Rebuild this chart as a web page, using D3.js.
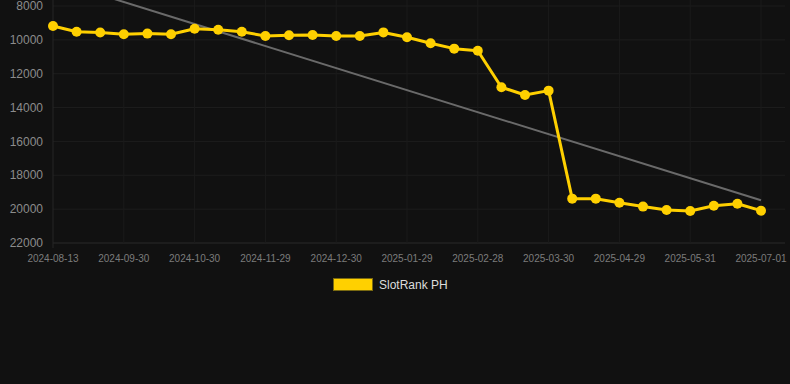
<!DOCTYPE html>
<html>
<head>
<meta charset="utf-8">
<script src="https://cdn.jsdelivr.net/npm/d3@7"></script>
<style>
  body { margin: 0; background: #111111; }
  svg { display: block; }
</style>
</head>
<body>
<svg id="chart" width="790" height="384"></svg>
<script>
var dates = ['2024-08-13', '2024-08-29', '2024-09-14', '2024-09-30', '2024-10-10', '2024-10-20',
    '2024-10-30', '2024-11-09', '2024-11-19', '2024-11-29', '2024-12-09', '2024-12-19',
    '2024-12-30', '2025-01-09', '2025-01-19', '2025-01-29', '2025-02-08', '2025-02-18',
    '2025-02-28', '2025-03-10', '2025-03-20', '2025-03-30', '2025-04-09', '2025-04-19',
    '2025-04-29', '2025-05-09', '2025-05-20', '2025-05-31', '2025-06-10', '2025-06-20',
    '2025-07-01'];
var ranks = [9180, 9520, 9570, 9670, 9630, 9670, 9340, 9400, 9520, 9770, 9730,
    9710, 9770, 9770, 9560, 9850, 10200, 10520, 10640, 12800, 13260, 13000,
    19380, 19380, 19620, 19850, 20050, 20110, 19800, 19680, 20090];
var yTicks = [8000, 10000, 12000, 14000, 16000, 18000, 20000, 22000];
var seriesName = 'SlotRank PH';

var svg = d3.select('#chart');
var plotLeft = 53, plotRight = 761, plotTop = 6, plotBottom = 243;

var x = d3.scalePoint().domain(dates).range([plotLeft, plotRight]);
var y = d3.scaleLinear().domain([8000, 22000]).range([plotTop, plotBottom]);

var labelled = dates.filter(function (d, i) { return i % 3 === 0; });

// grid
svg.append('g').selectAll('line').data(yTicks).enter().append('line')
    .attr('x1', plotLeft).attr('x2', plotRight + 24)
    .attr('y1', function (d) { return y(d); }).attr('y2', function (d) { return y(d); })
    .attr('stroke', function (d) { return d === 22000 ? '#2a2a2a' : '#1d1d1d'; })
    .attr('stroke-width', 1);
svg.append('g').selectAll('line').data(labelled).enter().append('line')
    .attr('x1', function (d) { return x(d); }).attr('x2', function (d) { return x(d); })
    .attr('y1', 0).attr('y2', function (d, i) { return i === 0 ? plotBottom + 5 : plotBottom; })
    .attr('stroke', function (d, i) { return i === 0 ? '#262626' : '#1b1b1b'; })
    .attr('stroke-width', 1);

// y labels
svg.append('g').selectAll('text').data(yTicks).enter().append('text')
    .attr('x', plotLeft - 10).attr('y', function (d) { return y(d); })
    .attr('dy', '0.35em').attr('text-anchor', 'end')
    .attr('font-family', 'Liberation Sans, Arial, sans-serif').attr('font-size', 12)
    .attr('fill', '#8c8c8c')
    .text(function (d) { return d; });

// x labels
svg.append('g').selectAll('text').data(labelled).enter().append('text')
    .attr('x', function (d) { return x(d); }).attr('y', 262)
    .attr('text-anchor', 'middle')
    .attr('font-family', 'Liberation Sans, Arial, sans-serif').attr('font-size', 10)
    .attr('fill', '#7c7c7c')
    .text(function (d) { return d; });

// trend line (least squares)
var n = ranks.length, mx = (n - 1) / 2, my = d3.mean(ranks);
var sxy = 0, sxx = 0;
ranks.forEach(function (v, i) { sxy += (i - mx) * (v - my); sxx += (i - mx) * (i - mx); });
var slope = sxy / sxx, icpt = my - slope * mx;
svg.append('line')
    .attr('x1', x(dates[0])).attr('y1', y(icpt))
    .attr('x2', x(dates[n - 1])).attr('y2', y(icpt + slope * (n - 1)))
    .attr('stroke', '#6a6a6a').attr('stroke-width', 2);

// series
var line = d3.line()
    .x(function (d, i) { return x(dates[i]); })
    .y(function (d) { return y(d); });
svg.append('path').datum(ranks)
    .attr('d', line).attr('fill', 'none')
    .attr('stroke', '#FFD000').attr('stroke-width', 3).attr('stroke-linejoin', 'round');
svg.append('g').selectAll('circle').data(ranks).enter().append('circle')
    .attr('cx', function (d, i) { return x(dates[i]); })
    .attr('cy', function (d) { return y(d); })
    .attr('r', 5).attr('fill', '#FFD000');

// legend
svg.append('rect').attr('x', 333.5).attr('y', 278.5).attr('width', 39).attr('height', 12)
    .attr('fill', '#FFD000').attr('stroke', '#7a6a10').attr('stroke-width', 1);
svg.append('text').attr('x', 379).attr('y', 284.5).attr('dy', '0.35em')
    .attr('font-family', 'Liberation Sans, Arial, sans-serif').attr('font-size', 12)
    .attr('fill', '#dddddd').text(seriesName);
</script>
</body>
</html>
